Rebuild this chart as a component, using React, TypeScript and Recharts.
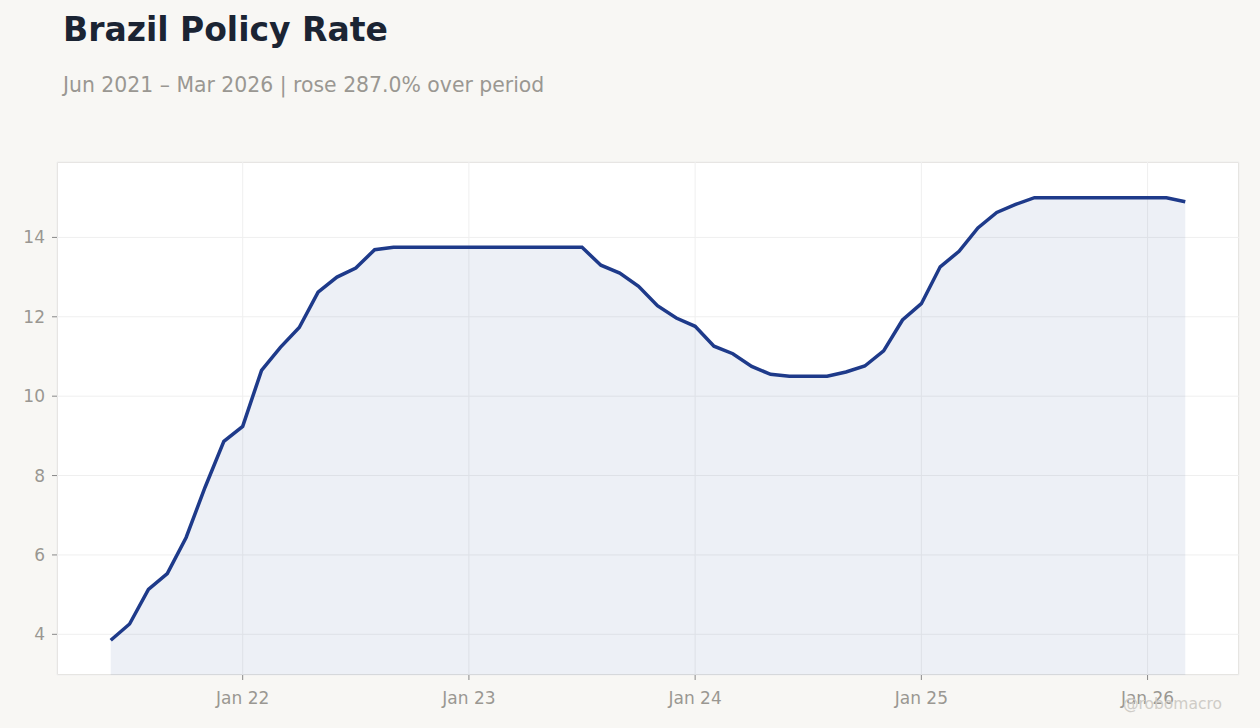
import React from 'react';
import { ComposedChart, Area, XAxis, YAxis, CartesianGrid } from 'recharts';

// months counted from Jun 2021 (0) to Mar 2026 (57)
const months: number[] = Array.from({ length: 58 }, (_, i) => i);

const rates: number[] = [
  3.85, 4.26, 5.13, 5.53, 6.44, 7.7, 8.86, 9.24, 10.65, 11.23, 11.73, 12.62,
  13.0, 13.23, 13.69, 13.75, 13.75, 13.75, 13.75, 13.75, 13.75, 13.75, 13.75, 13.75,
  13.75, 13.75, 13.3, 13.1, 12.77, 12.28, 11.97, 11.76, 11.26, 11.07, 10.75, 10.55,
  10.5, 10.5, 10.5, 10.61, 10.76, 11.14, 11.92, 12.33, 13.26, 13.65, 14.24, 14.63,
  14.83, 15.0, 15.0, 15.0, 15.0, 15.0, 15.0, 15.0, 15.0, 14.9,
];

const xTicks = [7, 19, 31, 43, 55];
const xTickLabels = ['Jan 22', 'Jan 23', 'Jan 24', 'Jan 25', 'Jan 26'];
const yTicks = [4, 6, 8, 10, 12, 14];

const data = months.map((m, i) => ({ m, rate: rates[i] }));

const font = '"DejaVu Sans", Verdana, sans-serif';
const grey = '#9a9792';
const navy = '#1e3a8a';

export default function App() {
  return (
    <div
      style={{
        position: 'absolute',
        left: 0,
        top: 0,
        width: 1260,
        height: 728,
        background: '#f8f7f4',
        fontFamily: font,
        overflow: 'hidden',
      }}
    >
      <div style={{ position: 'absolute', left: 63, top: 10, fontSize: 33, fontWeight: 700, color: '#1b2433' }}>
        Brazil Policy Rate
      </div>
      <div style={{ position: 'absolute', left: 63, top: 73, fontSize: 20.4, color: grey }}>
        Jun 2021 – Mar 2026 | rose 287.0% over period
      </div>

      {/* plot background + border */}
      <div
        style={{
          position: 'absolute',
          left: 57,
          top: 162,
          width: 1182,
          height: 513,
          background: '#ffffff',
          boxSizing: 'border-box',
          border: '1px solid #dedbd6',
        }}
      />

      <div style={{ position: 'absolute', left: 0, top: 0 }}>
        <ComposedChart width={1260} height={728} data={data} margin={{ top: 162, right: 21, bottom: 0, left: 0 }}>
          <CartesianGrid stroke="#efefef" strokeWidth={1} />
          <XAxis
            dataKey="m"
            type="number"
            domain={[-2.85, 59.85]}
            ticks={xTicks}
            tickFormatter={(v: number) => xTickLabels[xTicks.indexOf(v)] ?? ''}
            height={53}
            axisLine={false}
            tickLine={{ stroke: '#888' }}
            tickSize={5}
            tickMargin={12}
            tick={{ fill: grey, fontSize: 17, fontFamily: font }}
            allowDataOverflow
          />
          <YAxis
            type="number"
            domain={[2.975, 15.9]}
            ticks={yTicks}
            width={57}
            axisLine={false}
            tickLine={{ stroke: '#888' }}
            tickSize={5}
            tickMargin={7}
            tick={{ fill: grey, fontSize: 17, fontFamily: font }}
            allowDataOverflow
          />
          <Area
            type="linear"
            dataKey="rate"
            stroke={navy}
            strokeWidth={3.5}
            fill={navy}
            fillOpacity={0.08}
            dot={false}
            activeDot={false}
            isAnimationActive={false}
          />
        </ComposedChart>
      </div>

      <div style={{ position: 'absolute', left: 1123, top: 695, fontSize: 15.5, color: '#cfccc7' }}>@robomacro</div>
    </div>
  );
}
